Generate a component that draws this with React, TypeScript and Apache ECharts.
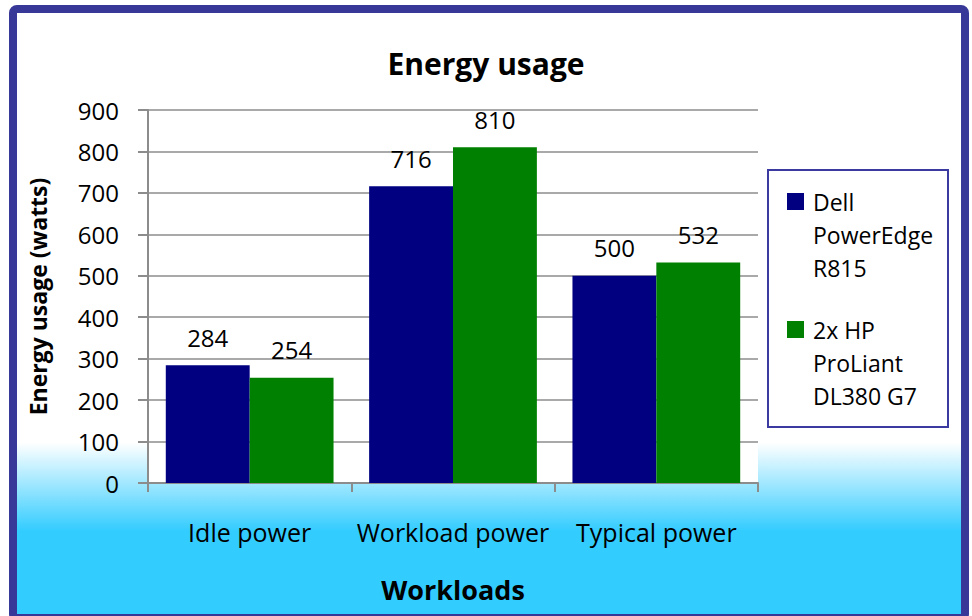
import React, { useEffect, useRef } from "react";
import * as echarts from "echarts";

const categories = ["Idle power", "Workload power", "Typical power"];
const dellValues = [284, 716, 500];
const hpValues = [254, 810, 532];
const seriesNames = ["Dell PowerEdge R815", "2x HP ProLiant DL380 G7"];
const legendLabels = ["Dell\nPowerEdge\nR815", "2x HP\nProLiant\nDL380 G7"];
const seriesColors = ["#000080", "#008000"];
const yMin = 0;
const yMax = 900;
const yInterval = 100;

const FONT = "Open Sans";

export default function App() {
  const ref = useRef<HTMLDivElement>(null);

  useEffect(() => {
    if (!ref.current) return;
    const chart = echarts.init(ref.current, undefined, { renderer: "svg" });
    const gridColor = "#8c8c8c";
    const labelCfg = {
      show: true,
      position: "top" as const,
      distance: 16,
      fontSize: 24,
      fontFamily: FONT,
      color: "#000",
    };
    chart.setOption({
      animation: false,
      textStyle: { fontFamily: FONT },
      graphic: [
        {
          type: "rect",
          z: -10,
          silent: true,
          shape: { x: 13, y: 9, width: 952, height: 609, r: 4 },
          style: {
            stroke: "#383898",
            lineWidth: 8,
            fill: new echarts.graphic.LinearGradient(0, 0, 0, 1, [
              { offset: 0, color: "#ffffff" },
              { offset: 0.712, color: "#ffffff" },
              { offset: 0.857, color: "#33CCFF" },
              { offset: 1, color: "#33CCFF" },
            ]),
          },
        },
        {
          type: "rect",
          z: 1,
          silent: true,
          shape: { x: 768, y: 170, width: 180, height: 257 },
          style: { stroke: "#3a3aa0", lineWidth: 2, fill: "#ffffff" },
        },
      ],
      title: {
        text: "Energy usage",
        left: "center",
        top: 48,
        padding: [0, 0, 0, 11],
        textStyle: {
          fontSize: 30,
          fontWeight: "bold",
          fontFamily: FONT,
          color: "#000",
        },
      },
      legend: {
        orient: "vertical",
        left: 787,
        top: 119,
        padding: 0,
        itemWidth: 17,
        itemHeight: 17,
        itemGap: -37,
        icon: "rect",
        data: seriesNames,
        formatter: (name: string) =>
          "\n\n" + legendLabels[seriesNames.indexOf(name)],
        textStyle: {
          fontSize: 23,
          lineHeight: 33,
          fontFamily: FONT,
          color: "#000",
          padding: [0, 0, 0, 4],
        },
      },
      grid: {
        left: 148,
        right: 214,
        top: 110,
        bottom: 133,
        show: true,
        backgroundColor: "#ffffff",
        borderWidth: 0,
      },
      xAxis: {
        type: "category",
        data: categories,
        name: "Workloads",
        nameLocation: "middle",
        nameGap: 93,
        nameTextStyle: {
          fontSize: 27,
          fontWeight: "bold",
          fontFamily: FONT,
          color: "#000",
        },
        axisLine: { lineStyle: { color: gridColor, width: 2 } },
        axisTick: { show: true, length: 9, lineStyle: { color: gridColor, width: 2 } },
        axisLabel: {
          interval: 0,
          fontSize: 25,
          margin: 36,
          color: "#000",
          fontFamily: FONT,
        },
      },
      yAxis: {
        type: "value",
        min: yMin,
        max: yMax,
        interval: yInterval,
        name: "Energy usage (watts)",
        nameLocation: "middle",
        nameGap: 99,
        nameTextStyle: {
          fontSize: 23,
          fontWeight: "bold",
          fontFamily: FONT,
          color: "#000",
        },
        axisLine: { show: true, lineStyle: { color: gridColor, width: 2 } },
        axisTick: { show: true, length: 10, lineStyle: { color: gridColor, width: 2 } },
        axisLabel: { fontSize: 24, margin: 29, color: "#000", fontFamily: FONT },
        splitLine: { show: true, lineStyle: { color: gridColor, width: 1.5 } },
      },
      series: [
        {
          name: seriesNames[0],
          type: "bar",
          data: dellValues,
          itemStyle: { color: seriesColors[0] },
          barGap: "0%",
          barCategoryGap: "17.5%",
          label: labelCfg,
        },
        {
          name: seriesNames[1],
          type: "bar",
          data: hpValues,
          itemStyle: { color: seriesColors[1] },
          barGap: "0%",
          barCategoryGap: "17.5%",
          label: labelCfg,
        },
      ],
    });
    return () => chart.dispose();
  }, []);

  return (
    <div
      ref={ref}
      style={{ position: "absolute", left: 0, top: 0, width: 972, height: 616 }}
    />
  );
}
